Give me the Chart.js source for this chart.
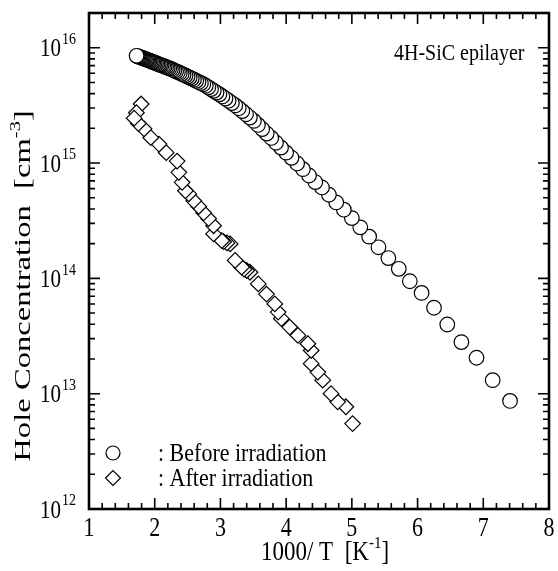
<!DOCTYPE html>
<html><head><meta charset="utf-8">
<script src="https://cdn.jsdelivr.net/npm/chart.js@4/dist/chart.umd.min.js"></script>
<style>html,body{margin:0;padding:0;background:#fff}#wrap{width:558px;height:571px}</style>
</head><body><div id="wrap"><canvas id="c" width="558" height="571"></canvas></div>
<script>
// ---- data (listed from low temperature to high temperature, i.e. high 1000/T first) ----
const beforeX = [7.407,7.143,6.897,6.667,6.452,6.250,6.061,5.882,5.714,5.556,5.405,5.263,5.128,5.000,4.878,4.762,4.651,4.545,4.444,4.348,4.255,4.167,4.082,4.000,3.922,3.846,3.774,3.704,3.636,3.571,3.509,3.448,3.390,3.333,3.279,3.226,3.175,3.125,3.077,3.030,2.985,2.941,2.899,2.857,2.817,2.778,2.740,2.703,2.667,2.632,2.597,2.564,2.532,2.500,2.469,2.439,2.410,2.381,2.353,2.326,2.299,2.273,2.247,2.222,2.198,2.174,2.151,2.128,2.105,2.083,2.062,2.041,2.020,2.000,1.980,1.961,1.942,1.923,1.905,1.887,1.869,1.852,1.835,1.818,1.802,1.786,1.770,1.754,1.739,1.724];
const beforeY = [8.65e12,1.31e13,2.05e13,2.80e13,3.98e13,5.56e13,7.48e13,9.44e13,1.21e14,1.50e14,1.86e14,2.30e14,2.77e14,3.33e14,3.94e14,4.55e14,5.31e14,6.14e14,6.84e14,7.80e14,8.85e14,9.91e14,1.11e15,1.23e15,1.36e15,1.50e15,1.65e15,1.80e15,1.97e15,2.14e15,2.32e15,2.48e15,2.65e15,2.82e15,2.99e15,3.16e15,3.31e15,3.47e15,3.62e15,3.78e15,3.94e15,4.08e15,4.23e15,4.38e15,4.53e15,4.68e15,4.82e15,4.93e15,5.05e15,5.16e15,5.28e15,5.40e15,5.51e15,5.62e15,5.73e15,5.83e15,5.93e15,6.04e15,6.14e15,6.24e15,6.34e15,6.44e15,6.55e15,6.62e15,6.70e15,6.79e15,6.87e15,6.95e15,7.03e15,7.11e15,7.18e15,7.26e15,7.34e15,7.41e15,7.48e15,7.55e15,7.64e15,7.71e15,7.78e15,7.85e15,7.92e15,7.98e15,8.05e15,8.13e15,8.19e15,8.26e15,8.32e15,8.38e15,8.45e15,8.51e15];
const afterX = [5.011,4.909,4.784,4.683,4.557,4.482,4.381,4.381,4.331,4.180,4.054,3.928,3.878,3.828,3.701,3.576,3.450,3.400,3.360,3.323,3.224,3.148,3.100,3.050,3.021,2.896,2.896,2.820,2.745,2.670,2.594,2.518,2.468,2.417,2.367,2.341,2.175,2.065,1.940,1.838,1.793,1.752,1.722,1.687];
const afterY = [5.5e12,7.7e12,8.5e12,1.0e13,1.31e13,1.54e13,1.82e13,2.37e13,2.71e13,3.2e13,3.78e13,4.47e13,5.1e13,6.0e13,7.3e13,8.95e13,1.13e14,1.17e14,1.2e14,1.25e14,1.43e14,1.99e14,2.03e14,2.08e14,2.12e14,2.43e14,2.86e14,3.3e14,3.7e14,4.2e14,4.7e14,5.4e14,5.75e14,6.8e14,8.3e14,1.04e15,1.23e15,1.46e15,1.66e15,1.98e15,3.25e15,2.2e15,2.73e15,2.45e15];
const xTicks = [1,2,3,4,5,6,7,8];
const yDecades = [12,13,14,15,16];
const seriesLabels = ['Before irradiation','After irradiation'];
const annotationText = '4H-SiC epilayer';
const xTitle = ['1000/ T  [K','-1',']'];
const yTitle = ['Hole Concentration  [cm','-3',']'];

const FONT = '"Liberation Serif", "Times New Roman", serif';

function pts(xs, ys){ return xs.map((x,i)=>({x:x, y:ys[i]})); }

const decor = {
  id:'decor',
  afterDatasetsDraw(chart){
    const ctx = chart.ctx, a = chart.chartArea;
    const xs = chart.scales.x, ys = chart.scales.y;
    ctx.save();
    ctx.strokeStyle = '#000'; ctx.fillStyle = '#000';
    ctx.lineWidth = 1.6;
    ctx.beginPath();
    for (let v = 1; v <= 8.0001; v += 0.2) {
      const px = xs.getPixelForValue(v);
      const major = Math.abs(v - Math.round(v)) < 1e-6;
      const L = major ? 11 : 6;
      ctx.moveTo(px, a.bottom); ctx.lineTo(px, a.bottom - L);
      ctx.moveTo(px, a.top); ctx.lineTo(px, a.top + L);
    }
    for (let d = 12; d <= 16; d++) {
      for (let m = 1; m <= 9; m++) {
        const v = m * Math.pow(10, d);
        if (v > ys.max * 1.0001) continue;
        const py = ys.getPixelForValue(v);
        const L = m === 1 ? 11 : 6;
        ctx.moveTo(a.left, py); ctx.lineTo(a.left + L, py);
        ctx.moveTo(a.right, py); ctx.lineTo(a.right - L, py);
      }
    }
    ctx.stroke();
    ctx.lineWidth = 2.6;
    ctx.strokeRect(a.left, a.top, a.right - a.left, a.bottom - a.top);

    function txt(s, x, y, size, sx, sy, align, base){
      ctx.save(); ctx.translate(x, y); ctx.scale(sx, sy);
      ctx.font = size + 'px ' + FONT; ctx.textAlign = align; ctx.textBaseline = base;
      ctx.fillText(s, 0, 0); ctx.restore();
    }
    function wid(s, size){ ctx.font = size + 'px ' + FONT; return ctx.measureText(s).width; }

    xTicks.forEach(v => txt(String(v), xs.getPixelForValue(v), 529, 22, 1, 1.2, 'center', 'middle'));
    yDecades.forEach(d => {
      const py = ys.getPixelForValue(Math.pow(10, d));
      const ew = wid(String(d), 14), bw = wid('10', 21);
      const x0 = 76 - ew - bw - 1;
      txt('10', x0, py + 2, 21, 1, 1.2, 'left', 'middle');
      txt(String(d), x0 + bw + 1, py - 8, 14, 1, 1.2, 'left', 'middle');
    });
    function supText(parts, cx, cy, big, small, sx, sy){
      const w0 = wid(parts[0], big), w1 = wid(parts[1], small), w2 = wid(parts[2], big);
      ctx.save(); ctx.translate(cx, cy); ctx.scale(sx, sy);
      let x = -(w0 + w1 + w2) / 2;
      ctx.textAlign = 'left'; ctx.textBaseline = 'middle';
      ctx.font = big + 'px ' + FONT; ctx.fillText(parts[0], x, 0); x += w0;
      ctx.font = small + 'px ' + FONT; ctx.fillText(parts[1], x, -8); x += w1;
      ctx.font = big + 'px ' + FONT; ctx.fillText(parts[2], x, 0);
      ctx.restore();
    }
    supText(xTitle, 325, 553, 23, 15, 1, 1.15);
    ctx.save(); ctx.translate(24, 286); ctx.rotate(-Math.PI/2);
    supText(yTitle, 0, 0, 24, 15, 1.36, 1);
    ctx.restore();
    txt(annotationText, 394, 60, 20, 1, 1.15, 'left', 'alphabetic');
    ctx.lineWidth = 1.2;
    ctx.fillStyle = '#fff';
    ctx.beginPath(); ctx.arc(113, 453, 7, 0, Math.PI*2); ctx.fill(); ctx.stroke();
    ctx.beginPath(); ctx.moveTo(105.5, 478); ctx.lineTo(113, 470.5); ctx.lineTo(120.5, 478); ctx.lineTo(113, 485.5); ctx.closePath(); ctx.fill(); ctx.stroke();
    ctx.fillStyle = '#000';
    txt(': ' + seriesLabels[0], 158, 461, 22, 1, 1.1, 'left', 'alphabetic');
    txt(': ' + seriesLabels[1], 158, 486, 22, 1, 1.1, 'left', 'alphabetic');
    ctx.restore();
  }
};

new Chart(document.getElementById('c'), {
  type: 'scatter',
  data: { datasets: [
    { label: seriesLabels[0], data: pts(beforeX, beforeY), pointStyle: 'circle', pointRadius: 7.3, pointHoverRadius: 7.3,
      borderColor: '#000', backgroundColor: '#fff', pointBorderWidth: 1.2, borderWidth: 1.2 },
    { label: seriesLabels[1], data: pts(afterX, afterY), pointStyle: 'rectRot', pointRadius: 7.8, pointHoverRadius: 7.8,
      borderColor: '#000', backgroundColor: '#fff', pointBorderWidth: 1.2, borderWidth: 1.2 }
  ]},
  options: {
    responsive: false, animation: false, devicePixelRatio: 1,
    layout: { padding: { left: 89, right: 5, top: 13, bottom: 62 } },
    plugins: { legend: { display: false }, tooltip: { enabled: false } },
    scales: {
      x: { type: 'linear', min: 1, max: 8, display: false },
      y: { type: 'logarithmic', min: 1e12, max: 2e16, display: false }
    }
  },
  plugins: [decor]
});
</script>
</body></html>
